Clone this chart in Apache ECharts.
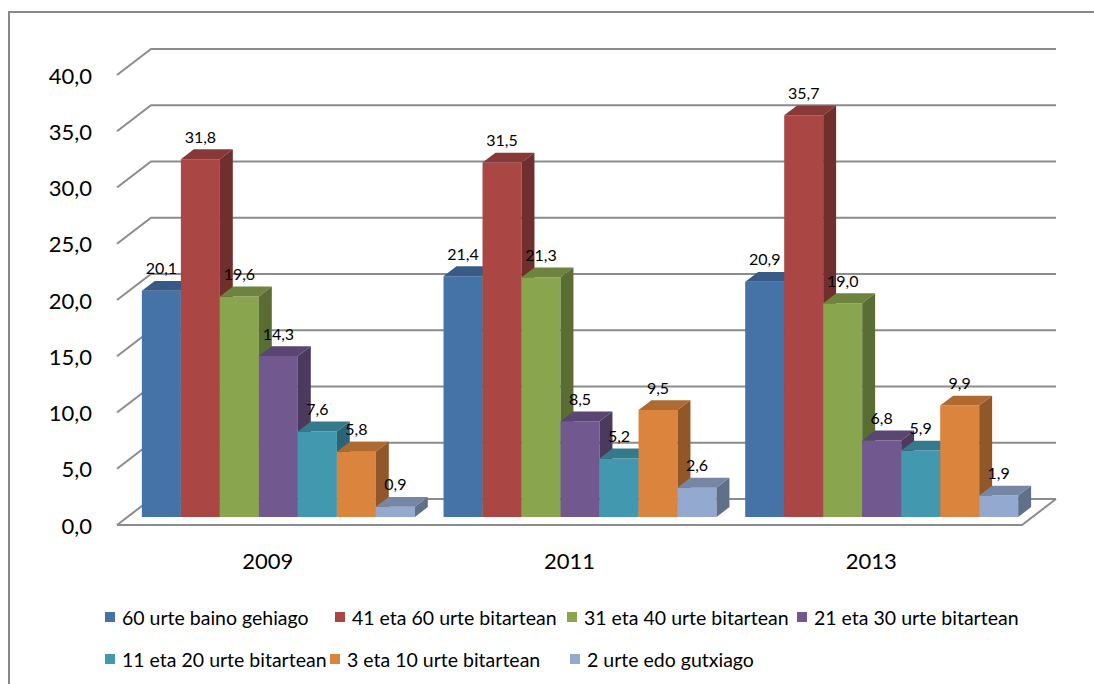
<!DOCTYPE html>
<html lang="eu">
  <head>
    <meta charset="UTF-8" />
    <script src="https://cdn.jsdelivr.net/npm/echarts@6/dist/echarts.min.js"></script>
    <title>Adin taldeak</title>
  </head>
  <body style="margin: 0">
    <div id="chart" style="width: 1094px; height: 684px"></div>
  </body>
</html>

<script>
  const years = ["2009", "2011", "2013"];
  const names = [
    "60 urte baino gehiago",
    "41 eta 60 urte bitartean",
    "31 eta 40 urte bitartean",
    "21 eta 30 urte bitartean",
    "11 eta 20 urte bitartean",
    "3 eta 10 urte bitartean",
    "2 urte edo gutxiago",
  ];
  const over60 = [20.1, 21.4, 20.9];
  const from41to60 = [31.8, 31.5, 35.7];
  const from31to40 = [19.6, 21.3, 19.0];
  const from21to30 = [14.3, 8.5, 6.8];
  const from11to20 = [7.6, 5.2, 5.9];
  const from3to10 = [5.8, 9.5, 9.9];
  const under2 = [0.9, 2.6, 1.9];
  const yTicks = [0, 5, 10, 15, 20, 25, 30, 35, 40];

  const allValues = [over60, from41to60, from31to40, from21to30, from11to20, from3to10, under2];
  const colors = ["#4572a7", "#aa4643", "#89a54e", "#71588f", "#4198af", "#db843d", "#93a9cf"];

  // legend spots (Excel puts them unevenly)
  const legendLeft = [105, 335, 567, 797, 105, 330, 570];
  const legendTop = [607, 607, 607, 607, 649, 649, 649];

  const font = "Lato, 'Liberation Sans', sans-serif";
  const DX = 34; // depth of the 3d box
  const DY = -26;
  const gridColor = "#8c8c8c";

  const shade = (hex, k) => {
    const n = parseInt(hex.slice(1), 16);
    const r = Math.round(((n >> 16) & 255) * k);
    const g = Math.round(((n >> 8) & 255) * k);
    const b = Math.round((n & 255) * k);
    return `rgb(${r},${g},${b})`;
  };

  const myChart = echarts.init(document.getElementById("chart"), null, { renderer: "svg" });

  const wallSeries = {
    type: "custom",
    silent: true,
    z: 1,
    data: yTicks.map((v) => [0, v]),
    renderItem: (params, api) => {
      const cs = params.coordSys;
      const y = api.coord([0, api.value(1)])[1];
      const L = cs.x;
      const R = cs.x + cs.width;
      const children = [
        {
          type: "polyline",
          shape: { points: [[L, y], [L + DX, y + DY], [R + DX, y + DY]] },
          style: { stroke: gridColor, lineWidth: 2, fill: null },
        },
      ];
      if (api.value(1) === 0) {
        children.push({
          type: "polyline",
          shape: { points: [[L, y], [R, y], [R + DX, y + DY]] },
          style: { stroke: gridColor, lineWidth: 2, fill: null },
        });
      }
      return { type: "group", children: children };
    },
  };

  const barSeries = allValues.map((values, i) => {
    const color = colors[i];
    return {
      type: "custom",
      name: names[i],
      z: 2 + i,
      itemStyle: { color: color },
      data: values.map((v, c) => [c, v]),
      renderItem: (params, api) => {
        const c = api.value(0);
        const v = api.value(1);
        const base = api.coord([c, 0]);
        const top = api.coord([c, v]);
        const band = api.size([1, 0])[0];
        const groupW = band * 0.905;
        const bw = groupW / 7;
        const x0 = base[0] - groupW / 2 + i * bw + 0.31 * DX;
        const yb = base[1] + 0.31 * DY;
        const yt = top[1] + 0.31 * DY;
        const bdx = 0.38 * DX;
        const bdy = 0.38 * DY;
        return {
          type: "group",
          children: [
            {
              type: "rect",
              shape: { x: x0, y: yt, width: bw, height: yb - yt },
              style: { fill: color },
            },
            {
              type: "polygon",
              shape: { points: [[x0, yt], [x0 + bdx, yt + bdy], [x0 + bw + bdx, yt + bdy], [x0 + bw, yt]] },
              style: { fill: shade(color, 0.8) },
            },
            {
              type: "polygon",
              shape: { points: [[x0 + bw, yt], [x0 + bw + bdx, yt + bdy], [x0 + bw + bdx, yb + bdy], [x0 + bw, yb]] },
              style: { fill: shade(color, 0.66) },
            },
            {
              type: "text",
              style: {
                x: x0 + bw / 2,
                y: yt - 23,
                text: v.toFixed(1).replace(".", ","),
                align: "center",
                verticalAlign: "middle",
                fill: "#000",
                font: "16px " + font,
              },
            },
          ],
        };
      },
    };
  });

  const options = {
    animation: false,
    backgroundColor: "#fff",
    textStyle: { fontFamily: font },
    grid: { left: 117, right: 72, top: 75, bottom: 159 },
    xAxis: {
      type: "category",
      data: years,
      axisLine: { show: false },
      axisTick: { show: false },
      splitLine: { show: false },
      axisLabel: { margin: 24, fontSize: 22, color: "#000", fontFamily: font },
    },
    yAxis: {
      type: "value",
      min: 0,
      max: 40,
      interval: 5,
      axisLine: { show: false },
      axisTick: { show: false },
      splitLine: { show: false },
      axisLabel: {
        margin: 25,
        fontSize: 22,
        color: "#000",
        fontFamily: font,
        formatter: (v) => v.toFixed(1).replace(".", ","),
      },
    },
    legend: names.map((name, i) => ({
      data: [name],
      left: legendLeft[i],
      top: legendTop[i],
      padding: 0,
      icon: "rect",
      itemWidth: 10,
      itemHeight: 10,
      selectedMode: false,
      textStyle: { fontSize: 19.5, color: "#000", fontFamily: font, padding: [0, 0, 0, 2] },
    })),
    graphic: [
      {
        type: "rect",
        shape: { x: 9, y: 12, width: 1200, height: 800 },
        style: { fill: null, stroke: "#898989", lineWidth: 2 },
        silent: true,
      },
    ],
    series: [wallSeries, ...barSeries],
  };
  myChart.setOption(options);
</script>
